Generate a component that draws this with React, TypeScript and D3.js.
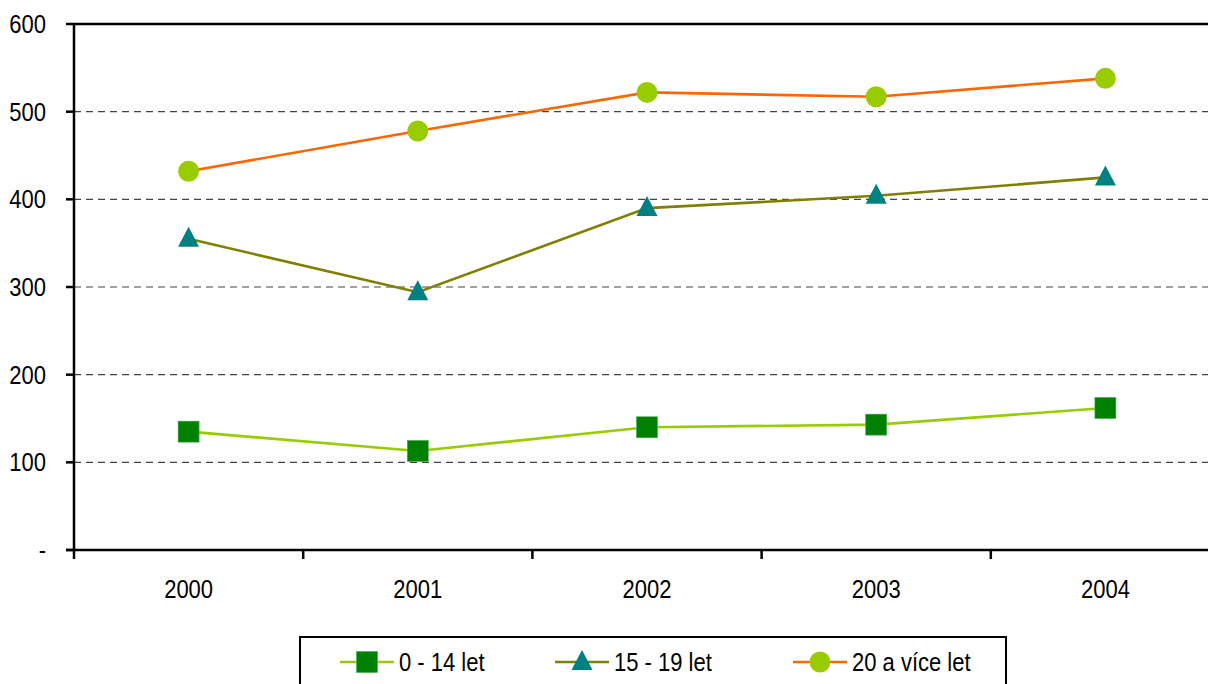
import { useEffect, useRef } from 'react'
import * as d3 from 'd3'

const years = ['2000', '2001', '2002', '2003', '2004']
const age0to14 = [135, 113, 140, 143, 162]
const age15to19 = [355, 294, 390, 404, 425]
const age20plus = [432, 478, 522, 517, 538]
const yTicks = [0, 100, 200, 300, 400, 500, 600]

const series = [
  { name: '0 - 14 let', values: age0to14, line: '#99cc00', marker: '#008000', shape: 'square' },
  { name: '15 - 19 let', values: age15to19, line: '#808000', marker: '#008080', shape: 'triangle' },
  { name: '20 a více let', values: age20plus, line: '#ff6600', marker: '#99cc00', shape: 'circle' },
]

const FONT = '"Liberation Sans", Arial, sans-serif'

export default function App() {
  const svgRef = useRef<SVGSVGElement>(null)

  useEffect(() => {
    if (!svgRef.current) return
    const svg = d3.select(svgRef.current)
    svg.selectAll('*').remove()

    const left = 74
    const top = 24
    const bottom = 550

    const x = d3.scaleBand().domain(years).range([left, left + 5 * 229.2])
    const y = d3.scaleLinear().domain([0, 600]).range([bottom, top])
    const cx = (d: string) => (x(d) || 0) + x.bandwidth() / 2

    const addText = (sel: any, tx: number, ty: number, txt: string, anchor: string) =>
      sel
        .append('text')
        .attr('transform', `translate(${tx},${ty}) scale(0.88,1)`)
        .attr('text-anchor', anchor)
        .attr('font-family', FONT)
        .attr('font-size', 25)
        .attr('fill', '#000')
        .text(txt)

    // gridlines
    yTicks
      .filter((t) => t > 0 && t < 600)
      .forEach((t) => {
        svg
          .append('line')
          .attr('x1', left)
          .attr('x2', 1208)
          .attr('y1', y(t))
          .attr('y2', y(t))
          .attr('stroke', '#444')
          .attr('stroke-width', 1.2)
          .attr('stroke-dasharray', '7,5')
      })
    svg
      .append('line')
      .attr('x1', left)
      .attr('x2', 1208)
      .attr('y1', y(600))
      .attr('y2', y(600))
      .attr('stroke', '#000')
      .attr('stroke-width', 2.5)

    // axes
    svg
      .append('line')
      .attr('x1', left)
      .attr('x2', left)
      .attr('y1', top)
      .attr('y2', bottom)
      .attr('stroke', '#000')
      .attr('stroke-width', 2.5)
    svg
      .append('line')
      .attr('x1', left - 8)
      .attr('x2', 1208)
      .attr('y1', bottom)
      .attr('y2', bottom)
      .attr('stroke', '#000')
      .attr('stroke-width', 2.5)

    yTicks.forEach((t) => {
      svg
        .append('line')
        .attr('x1', left - 8)
        .attr('x2', left)
        .attr('y1', y(t))
        .attr('y2', y(t))
        .attr('stroke', '#000')
        .attr('stroke-width', 2.5)
      addText(svg, 46, y(t) + 9, t === 0 ? '-' : String(t), 'end')
    })

    years.forEach((yr) => {
      const bx = x(yr) || 0
      svg
        .append('line')
        .attr('x1', bx)
        .attr('x2', bx)
        .attr('y1', bottom)
        .attr('y2', bottom + 9)
        .attr('stroke', '#000')
        .attr('stroke-width', 2.5)
      addText(svg, cx(yr), 598, yr, 'middle')
    })

    const drawMarker = (g: any, shape: string, px: number, py: number, fill: string) => {
      if (shape === 'square') {
        g.append('rect')
          .attr('x', px - 10.5)
          .attr('y', py - 10.5)
          .attr('width', 21)
          .attr('height', 21)
          .attr('fill', fill)
          .attr('stroke', '#4caf50')
          .attr('stroke-width', 0.6)
      } else if (shape === 'triangle') {
        g.append('path')
          .attr('d', `M${px},${py - 12}L${px + 10.5},${py + 8}L${px - 10.5},${py + 8}Z`)
          .attr('fill', fill)
      } else {
        g.append('circle').attr('cx', px).attr('cy', py).attr('r', 10.5).attr('fill', fill)
      }
    }

    const line = d3
      .line<number>()
      .x((_, i) => cx(years[i]))
      .y((d) => y(d))

    series.forEach((s) => {
      svg
        .append('path')
        .attr('d', line(s.values))
        .attr('fill', 'none')
        .attr('stroke', s.line)
        .attr('stroke-width', 2.6)
      s.values.forEach((v, i) => drawMarker(svg, s.shape, cx(years[i]), y(v), s.marker))
    })

    // legend
    svg
      .append('rect')
      .attr('x', 300)
      .attr('y', 637)
      .attr('width', 706)
      .attr('height', 60)
      .attr('fill', '#fff')
      .attr('stroke', '#000')
      .attr('stroke-width', 2)
    const legendX = [340, 555, 793]
    series.forEach((s, i) => {
      const lx = legendX[i]
      const ly = 662
      svg
        .append('line')
        .attr('x1', lx)
        .attr('x2', lx + 54)
        .attr('y1', ly)
        .attr('y2', ly)
        .attr('stroke', s.line)
        .attr('stroke-width', 2.6)
      drawMarker(svg, s.shape, lx + 27, ly, s.marker)
      addText(svg, lx + 59, ly + 9, s.name, 'start')
    })
  }, [])

  return (
    <svg
      ref={svgRef}
      width={1208}
      height={684}
      style={{ position: 'absolute', left: 0, top: 0, background: '#fff' }}
    />
  )
}
